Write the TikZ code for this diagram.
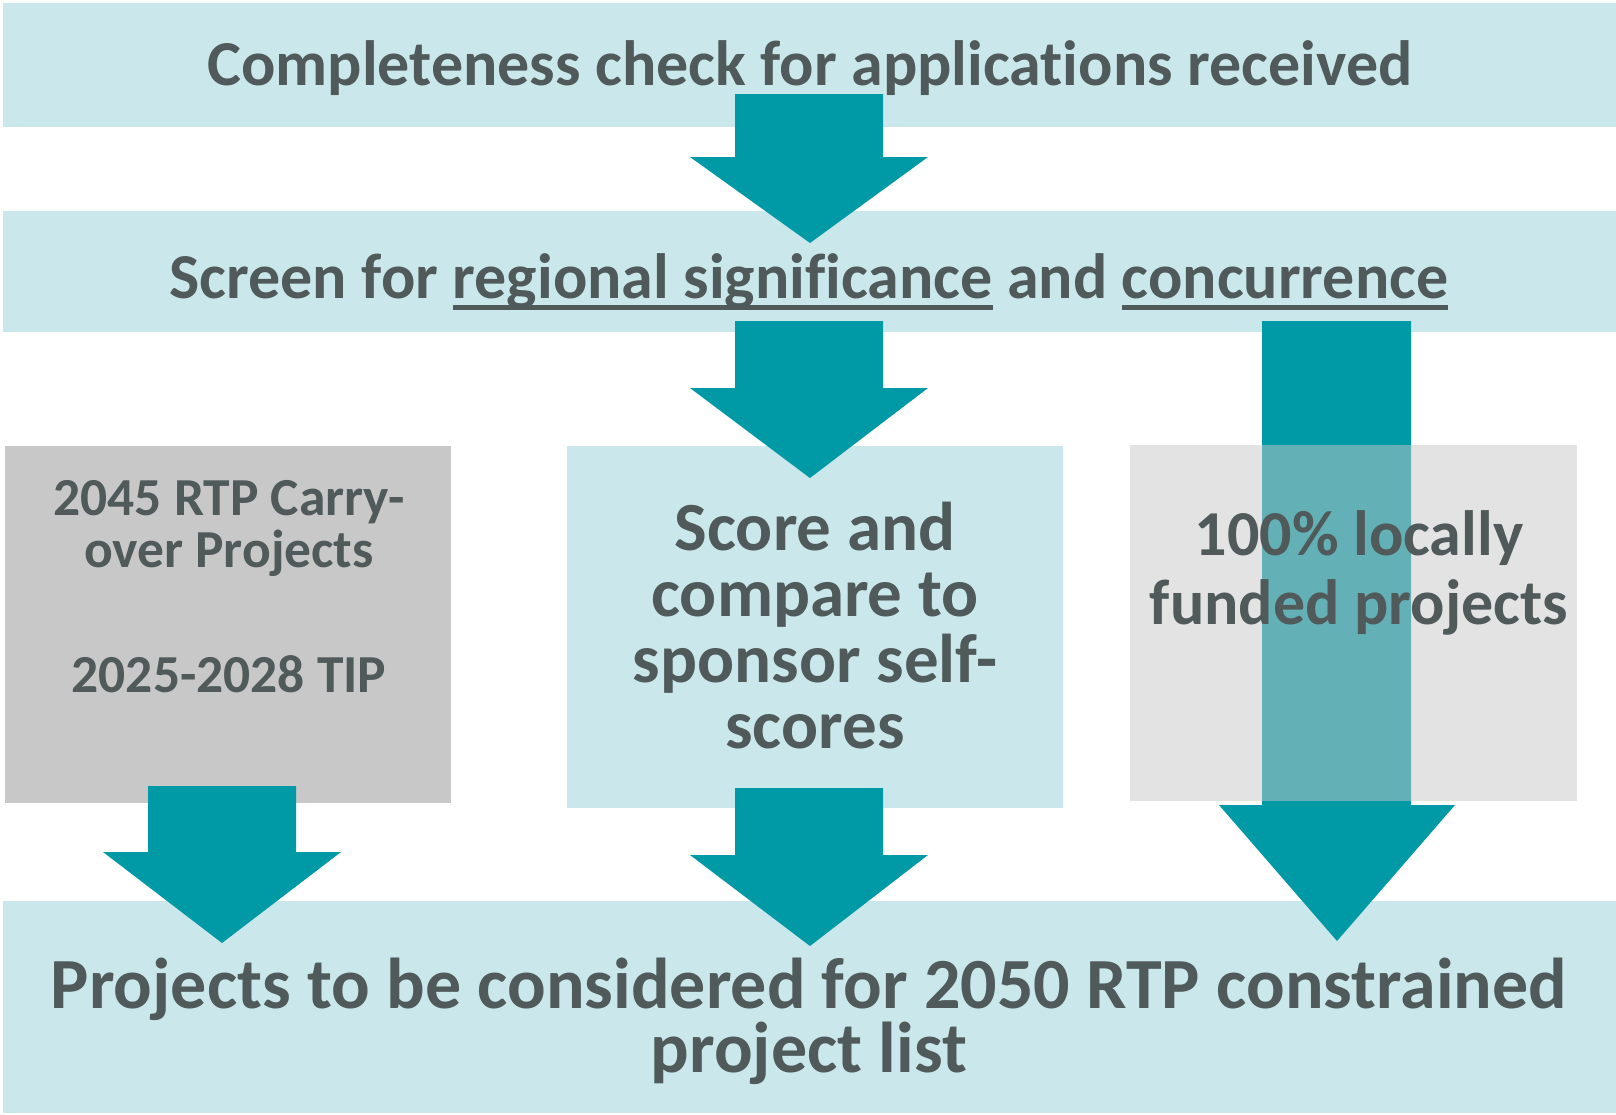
\documentclass[tikz,border=0pt]{standalone}
\usepackage{fontspec}
\setmainfont{Carlito}[Ligatures=NoCommon]
\definecolor{bandblue}{HTML}{CAE8EB}
\definecolor{teal}{HTML}{0099A6}
\definecolor{txt}{HTML}{505A5A}
\definecolor{boxgray}{HTML}{C8C8C8}
\newsavebox\ulbox
\newcommand\myul[1]{\sbox\ulbox{#1}\rlap{\rule[-11.5pt]{\wd\ulbox}{5pt}}\usebox\ulbox}
\tikzset{
  panel/.style={fill=#1, draw=none, inner sep=0pt, anchor=north west},
  blockarrow/.style={fill=teal, draw=none},
  label/.style={text=txt, inner sep=0pt, anchor=base, align=center, font=\bfseries},
}
\begin{document}
\begin{tikzpicture}[x=1pt,y=-1pt]
\useasboundingbox (0,0) rectangle (1616,1114);
\fill[white] (0,0) rectangle (1616,1114);
% bands and boxes
\node[panel=bandblue, minimum width=1613pt, minimum height=124pt] (checkband) at (3,3) {};
\node[panel=bandblue, minimum width=1613pt, minimum height=121pt] (screenband) at (3,211) {};
\node[panel=bandblue, minimum width=1613pt, minimum height=212pt] (finalband) at (3,901) {};
\node[panel=boxgray, minimum width=446pt, minimum height=357pt] (carrybox) at (5,446) {};
\node[panel=bandblue, minimum width=496pt, minimum height=362pt] (scorebox) at (567,446) {};
% arrows
\path[blockarrow] (735,94) -- (883,94) -- (883,157) -- (928,157) -- (810,243) -- (690,157) -- (735,157) -- cycle;
\path[blockarrow] (735,321) -- (883,321) -- (883,388) -- (928,388) -- (810,478) -- (690,388) -- (735,388) -- cycle;
\path[blockarrow] (1262,321) -- (1411,321) -- (1411,805) -- (1455,805) -- (1337,941) -- (1219,805) -- (1262,805) -- cycle;
\path[blockarrow] (148,786) -- (296,786) -- (296,852) -- (341,852) -- (222,943) -- (103,852) -- (148,852) -- cycle;
\path[blockarrow] (735,788) -- (883,788) -- (883,855) -- (928,855) -- (810,946) -- (690,855) -- (735,855) -- cycle;
\node[panel=boxgray, fill opacity=0.5, minimum width=447pt, minimum height=356pt] (localbox) at (1130,445) {};
% texts
\node[label, font=\bfseries\fontsize{64}{76}\selectfont] (checktext) at (810,85) {Completeness check for applications received};
\node[label, font=\bfseries\fontsize{64}{76}\selectfont] (screentext) at (809,298) {Screen for \myul{regional significance} and \myul{concurrence}};
\node[label, font=\bfseries\fontsize{53.5}{52}\selectfont] (carrytext) at (229,567) {2045 RTP Carry-\\over Projects};
\node[label, font=\bfseries\fontsize{53.5}{52}\selectfont] (tiptext) at (229,692) {2025-2028 TIP};
\node[label, font=\bfseries\fontsize{69}{66}\selectfont] (scoretext) at (815,748) {Score and\\compare to\\sponsor self-\\scores};
\node[label, font=\bfseries\fontsize{64}{69}\selectfont] (localtext) at (1359,624) {100\% locally\\funded projects};
\node[label, font=\bfseries\fontsize{72}{61}\selectfont] (finaltext) at (809,1072) {Projects to be considered for 2050 RTP constrained\\project list};
\end{tikzpicture}
\end{document}
